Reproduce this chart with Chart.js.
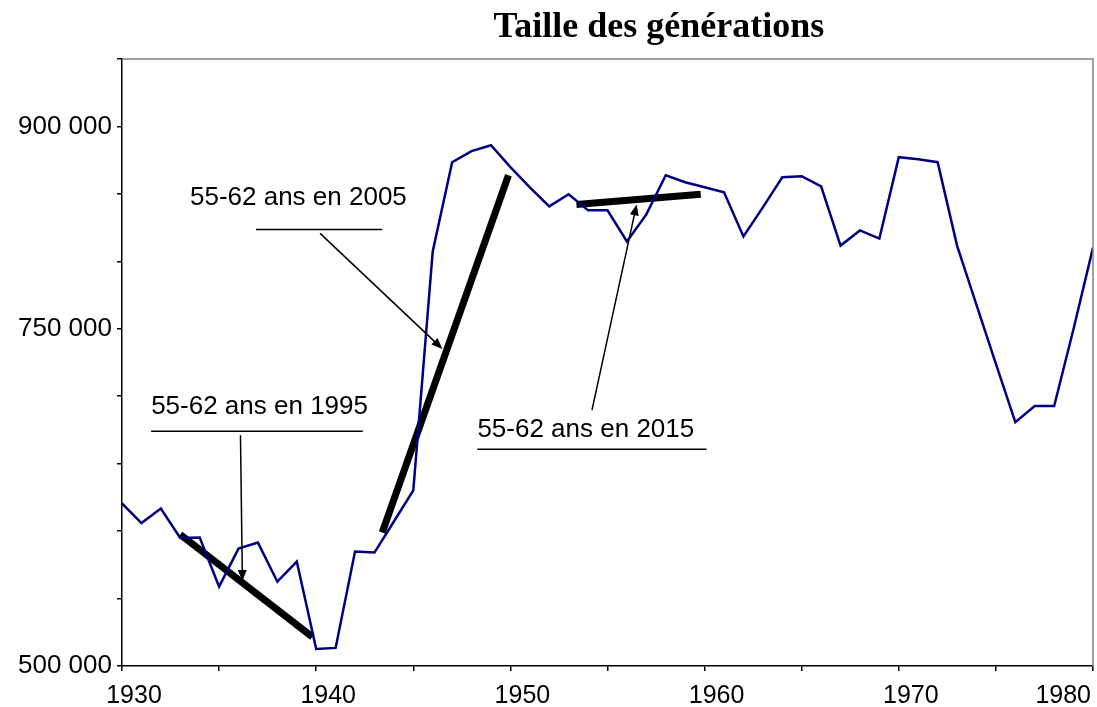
<!DOCTYPE html>
<html>
<head>
<meta charset="utf-8">
<title>Taille des générations</title>
<script src="https://cdn.jsdelivr.net/npm/chart.js@4.4.1/dist/chart.umd.min.js"></script>
<style>
  html, body { margin: 0; padding: 0; background: #fff; }
  canvas { display: block; }
</style>
</head>
<body>
<canvas id="chart" width="1097" height="707"></canvas>
<script>
// Taille des generations, 1930-1980
const years = [
  1930, 1931, 1932, 1933, 1934, 1935, 1936, 1937, 1938, 1939,
  1940, 1941, 1942, 1943, 1944, 1945, 1946, 1947, 1948, 1949,
  1950, 1951, 1952, 1953, 1954, 1955, 1956, 1957, 1958, 1959,
  1960, 1961, 1962, 1963, 1964, 1965, 1966, 1967, 1968, 1969,
  1970, 1971, 1972, 1973, 1974, 1975, 1976, 1977, 1978, 1979,
  1980
];
const births = [
  620500, 606000, 616800, 594900, 595200, 558800, 587000, 591500, 562500, 577400,
  512600, 513400, 584800, 584100, 607100, 630200, 807300, 873500, 881700, 886100,
  869800, 854900, 840800, 849700, 837800, 837800, 814700, 834800, 863800, 858600,
  854900, 851200, 818400, 840000, 862300, 863100, 855600, 811700, 822900, 816900,
  877200, 875700, 873500, 811700, 767800, 724000, 680800, 692700, 692700, 750000,
  810200
];
const yLabelTicks = [500000, 750000, 900000];

// thick trend segments (55-62 ans en 1995 / 2005 / 2015)
const trendX1995 = [1933.0, 1939.8];
const trendY1995 = [597500, 521600];
const trendX2005 = [1943.4, 1949.9];
const trendY2005 = [599000, 863800];
const trendX2015 = [1953.4, 1959.8];
const trendY2015 = [842200, 849700];

// notes: text, underline, arrow (data units)
const noteTexts = ['55-62 ans en 1995', '55-62 ans en 2005', '55-62 ans en 2015'];
const noteTextX = [1931.5, 1933.5, 1948.3];
const noteTextY = [687000, 841500, 670000];
const ruleFromX = [1931.5, 1936.9, 1948.3];
const ruleToX = [1942.4, 1943.4, 1960.1];
const ruleY = [674000, 823600, 660700];
const arrowFromX = [1936.1, 1940.2, 1954.2];
const arrowFromY = [671000, 820700, 689700];
const arrowToX = [1936.2, 1946.5, 1956.5];
const arrowToY = [563000, 735100, 842200];

const SANS = '"Liberation Sans", Arial, sans-serif';
const pairs = (xs, ys) => xs.map((v, i) => ({ x: v, y: ys[i] }));
const fmt = v => String(v).replace(/\B(?=(\d{3})+(?!\d))/g, ' ');

function arrow(ctx, x1, y1, x2, y2) {
  const a = Math.atan2(y2 - y1, x2 - x1), L = 11, W = 4.5;
  const c = Math.cos(a), s = Math.sin(a);
  ctx.beginPath();
  ctx.moveTo(x1, y1);
  ctx.lineTo(x2 - c * L * 0.7, y2 - s * L * 0.7);
  ctx.stroke();
  ctx.beginPath();
  ctx.moveTo(x2, y2);
  ctx.lineTo(x2 - c * L + s * W, y2 - s * L - c * W);
  ctx.lineTo(x2 - c * L - s * W, y2 - s * L + c * W);
  ctx.closePath();
  ctx.fill();
}

const decor = {
  id: 'decor',
  afterDraw(chart) {
    const { ctx, chartArea: a, scales: { x, y } } = chart;
    ctx.save();
    // grey top / right frame
    ctx.strokeStyle = '#808080';
    ctx.lineWidth = 1.5;
    ctx.beginPath();
    ctx.moveTo(a.left, a.top);
    ctx.lineTo(a.right, a.top);
    ctx.lineTo(a.right, a.bottom);
    ctx.stroke();

    // title
    ctx.fillStyle = '#000';
    ctx.textBaseline = 'alphabetic';
    ctx.textAlign = 'center';
    ctx.font = 'bold 36px "Liberation Serif", "Times New Roman", serif';
    ctx.fillText('Taille des générations', a.left + a.width * 0.553, a.top - 22);

    // x tick labels every 10 years
    ctx.font = '25px ' + SANS;
    x.ticks.forEach(t => {
      if (t.value % 10 !== 0) return;
      const txt = String(t.value);
      const w = ctx.measureText(txt).width;
      let px = x.getPixelForValue(t.value) + 12;
      if (px + w / 2 > chart.width - 6) px = chart.width - 6 - w / 2;
      ctx.fillText(txt, px, a.bottom + 37);
    });

    // notes
    ctx.textAlign = 'left';
    ctx.font = '26px ' + SANS;
    ctx.strokeStyle = '#000';
    ctx.lineWidth = 1.5;
    noteTexts.forEach((txt, i) => {
      ctx.fillText(txt, x.getPixelForValue(noteTextX[i]), y.getPixelForValue(noteTextY[i]));
      const ry = y.getPixelForValue(ruleY[i]);
      ctx.beginPath();
      ctx.moveTo(x.getPixelForValue(ruleFromX[i]), ry);
      ctx.lineTo(x.getPixelForValue(ruleToX[i]), ry);
      ctx.stroke();
      arrow(ctx,
        x.getPixelForValue(arrowFromX[i]), y.getPixelForValue(arrowFromY[i]),
        x.getPixelForValue(arrowToX[i]), y.getPixelForValue(arrowToY[i]));
    });
    ctx.restore();
  }
};

const trendStyle = { borderColor: '#000', borderWidth: 7, pointRadius: 0, borderCapStyle: 'butt', tension: 0 };

new Chart(document.getElementById('chart'), {
  type: 'line',
  data: {
    datasets: [
      { data: pairs(years, births), borderColor: '#000080', borderWidth: 2.5, pointRadius: 0, tension: 0 },
      { data: pairs(trendX1995, trendY1995), ...trendStyle },
      { data: pairs(trendX2005, trendY2005), ...trendStyle },
      { data: pairs(trendX2015, trendY2015), ...trendStyle }
    ]
  },
  options: {
    responsive: false,
    animation: false,
    layout: { padding: { top: 59, right: 4, left: 0, bottom: 0 } },
    plugins: { legend: { display: false }, tooltip: { enabled: false }, title: { display: false } },
    scales: {
      x: {
        type: 'linear', min: 1930, max: 1980,
        ticks: { stepSize: 5, display: false },
        grid: { drawOnChartArea: false, tickLength: 5, color: '#000', lineWidth: 1.5 },
        border: { color: '#000', width: 1.5 },
        afterFit: s => { s.height = 41; }
      },
      y: {
        min: 500000, max: 950000,
        ticks: {
          stepSize: 50000, autoSkip: false, color: '#000', padding: 5,
          font: { family: SANS, size: 26 },
          callback: v => yLabelTicks.includes(v) ? fmt(v) : ''
        },
        grid: { drawOnChartArea: false, tickLength: 5, color: '#000', lineWidth: 1.5 },
        border: { color: '#000', width: 1.5 },
        afterFit: s => { s.width = 122; }
      }
    }
  },
  plugins: [decor]
});
</script>
</body>
</html>
